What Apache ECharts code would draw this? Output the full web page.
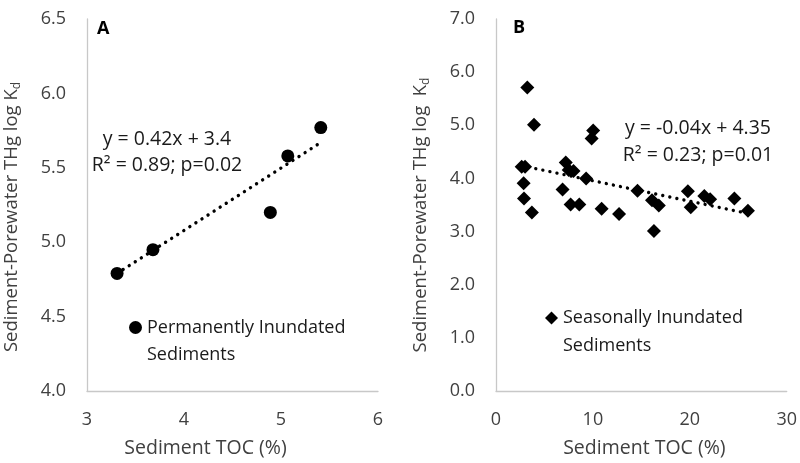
<!DOCTYPE html>
<html>
<head>
<meta charset="utf-8">
<script src="https://cdn.jsdelivr.net/npm/echarts@6/dist/echarts.min.js"></script>
<style>html,body{margin:0;padding:0;background:#fff}#c{width:800px;height:463px}</style>
</head>
<body>
<div id="c"></div>
<script>
// Panel A: permanently inundated sediments
const xA = [3.31, 3.68, 4.89, 5.07, 5.41];
const yA = [4.79, 4.95, 5.20, 5.58, 5.77];
const trendA = [[3.31, 4.79], [5.41, 5.67]];
// Panel B: seasonally inundated sediments
const xB = [3.23, 3.92, 10.03, 9.87, 2.65, 3.0, 7.2, 7.5, 8.0, 9.3, 2.85, 6.87, 14.6, 2.89, 7.7, 8.6, 3.7, 10.9, 12.7, 16.1, 16.8, 16.3, 19.8, 20.1, 21.5, 22.1, 24.6, 26.0];
const yB = [5.71, 5.01, 4.90, 4.75, 4.22, 4.22, 4.30, 4.16, 4.14, 4.00, 3.91, 3.79, 3.77, 3.62, 3.51, 3.51, 3.36, 3.43, 3.33, 3.59, 3.49, 3.01, 3.76, 3.46, 3.67, 3.61, 3.62, 3.39];
const trendB = [[2.65, 4.24], [26.0, 3.34]];
// tick setup
const ticksA_x = {min: 3, max: 6, interval: 1};
const ticksA_y = {min: 4, max: 6.5, interval: 0.5};
const ticksB_x = {min: 0, max: 30, interval: 10};
const ticksB_y = {min: 0, max: 7, interval: 1};
const nameA = 'Permanently Inundated Sediments';
const nameB = 'Seasonally Inundated Sediments';
const eqA = ['y = 0.42x + 3.4', 'R\u00b2 = 0.89; p=0.02'];
const eqB = ['y = -0.04x + 4.35', 'R\u00b2 = 0.23; p=0.01'];

const FONT = 'Open Sans';
const TXT = '#404040';
const AX = '#c8c8c8';

function xAxisCfg(idx, t, pad) {
  return {
    gridIndex: idx, type: 'value', min: t.min, max: t.max, interval: t.interval,
    name: 'Sediment TOC (%)', nameLocation: 'middle', nameGap: 47,
    nameTextStyle: {fontFamily: FONT, fontSize: 19.5, color: TXT, padding: pad},
    axisLine: {show: true, onZero: false, lineStyle: {color: AX, width: 1.3}},
    axisTick: {show: false}, splitLine: {show: false},
    axisLabel: {fontFamily: FONT, fontSize: 18, color: TXT, margin: 20}
  };
}
function yAxisCfg(idx, t, name, gap, pad) {
  return {
    gridIndex: idx, type: 'value', min: t.min, max: t.max, interval: t.interval,
    name: name, nameLocation: 'middle', nameGap: gap,
    nameTextStyle: {fontFamily: FONT, fontSize: 18.5, color: TXT, padding: pad,
      rich: {sub: {fontFamily: FONT, fontSize: 12, color: TXT, padding: [10, 0, 0, 0]}}},
    axisLine: {show: true, onZero: false, lineStyle: {color: AX, width: 1.3}},
    axisTick: {show: false}, splitLine: {show: false},
    axisLabel: {fontFamily: FONT, fontSize: 18, color: TXT, margin: 21,
      formatter: v => v.toFixed(1)}
  };
}
function legendCfg(idx, name, left, top, icon, lh) {
  return {
    data: [{name: name, icon: icon}], left: left, top: top, orient: 'vertical', padding: 0,
    itemWidth: 13, itemHeight: 13, selectedMode: false,
    formatter: n => '\n' + n.replace(' Sediments', '\nSediments'),
    textStyle: {fontFamily: FONT, fontSize: 18, color: '#1a1a1a', lineHeight: lh}
  };
}
function trend(idx, d) {
  return {
    type: 'line', xAxisIndex: idx, yAxisIndex: idx, data: d, symbol: 'none', z: 5,
    silent: true, animation: false,
    lineStyle: {color: '#000', width: 3.4, type: [0.01, 7.2], cap: 'round'}
  };
}
function eqText(lines, cx, y0, dy) {
  return lines.map((s, i) => ({
    type: 'text', x: cx, y: y0 + i * dy,
    style: {text: s, fontFamily: FONT, fontSize: 19.5, fill: '#1a1a1a', textAlign: 'center', textVerticalAlign: 'middle'}
  }));
}

const chart = echarts.init(document.getElementById('c'), null, {renderer: 'canvas'});
chart.setOption({
  animation: false,
  backgroundColor: '#fff',
  grid: [
    {left: 87, top: 19, width: 291, height: 374},
    {left: 496, top: 19, width: 291, height: 374}
  ],
  xAxis: [xAxisCfg(0, ticksA_x, [0, 54, 0, 0]), xAxisCfg(1, ticksB_x, [0, 0, 0, 6])],
  yAxis: [
    yAxisCfg(0, ticksA_y, 'Sediment-Porewater THg log K{sub|d}', 64, [0, 24, 0, 0]),
    yAxisCfg(1, ticksB_y, 'Sediment-Porewater THg log  K{sub|d}', 64, [0, 20, 0, 0])
  ],
  legend: [
    legendCfg(0, nameA, 129, 287, 'circle', 27),
    legendCfg(1, nameB, 545, 276, 'diamond', 28)
  ],
  series: [
    {name: nameA, type: 'scatter', xAxisIndex: 0, yAxisIndex: 0, symbol: 'circle', symbolSize: 13,
      itemStyle: {color: '#000', opacity: 1}, data: xA.map((x, i) => [x, yA[i]])},
    trend(0, trendA),
    {name: nameB, type: 'scatter', xAxisIndex: 1, yAxisIndex: 1, symbol: 'diamond', symbolSize: 14,
      itemStyle: {color: '#000', opacity: 1}, data: xB.map((x, i) => [x, yB[i]])},
    trend(1, trendB)
  ],
  graphic: [
    {type: 'text', x: 97, y: 29, style: {text: 'A', fontFamily: FONT, fontSize: 18, fontWeight: 'bold', fill: '#000', textVerticalAlign: 'middle'}},
    {type: 'text', x: 513, y: 28, style: {text: 'B', fontFamily: FONT, fontSize: 18, fontWeight: 'bold', fill: '#000', textVerticalAlign: 'middle'}}
  ].concat(eqText(eqA, 167, 139, 26)).concat(eqText(eqB, 698, 128, 27))
});
</script>
</body>
</html>
